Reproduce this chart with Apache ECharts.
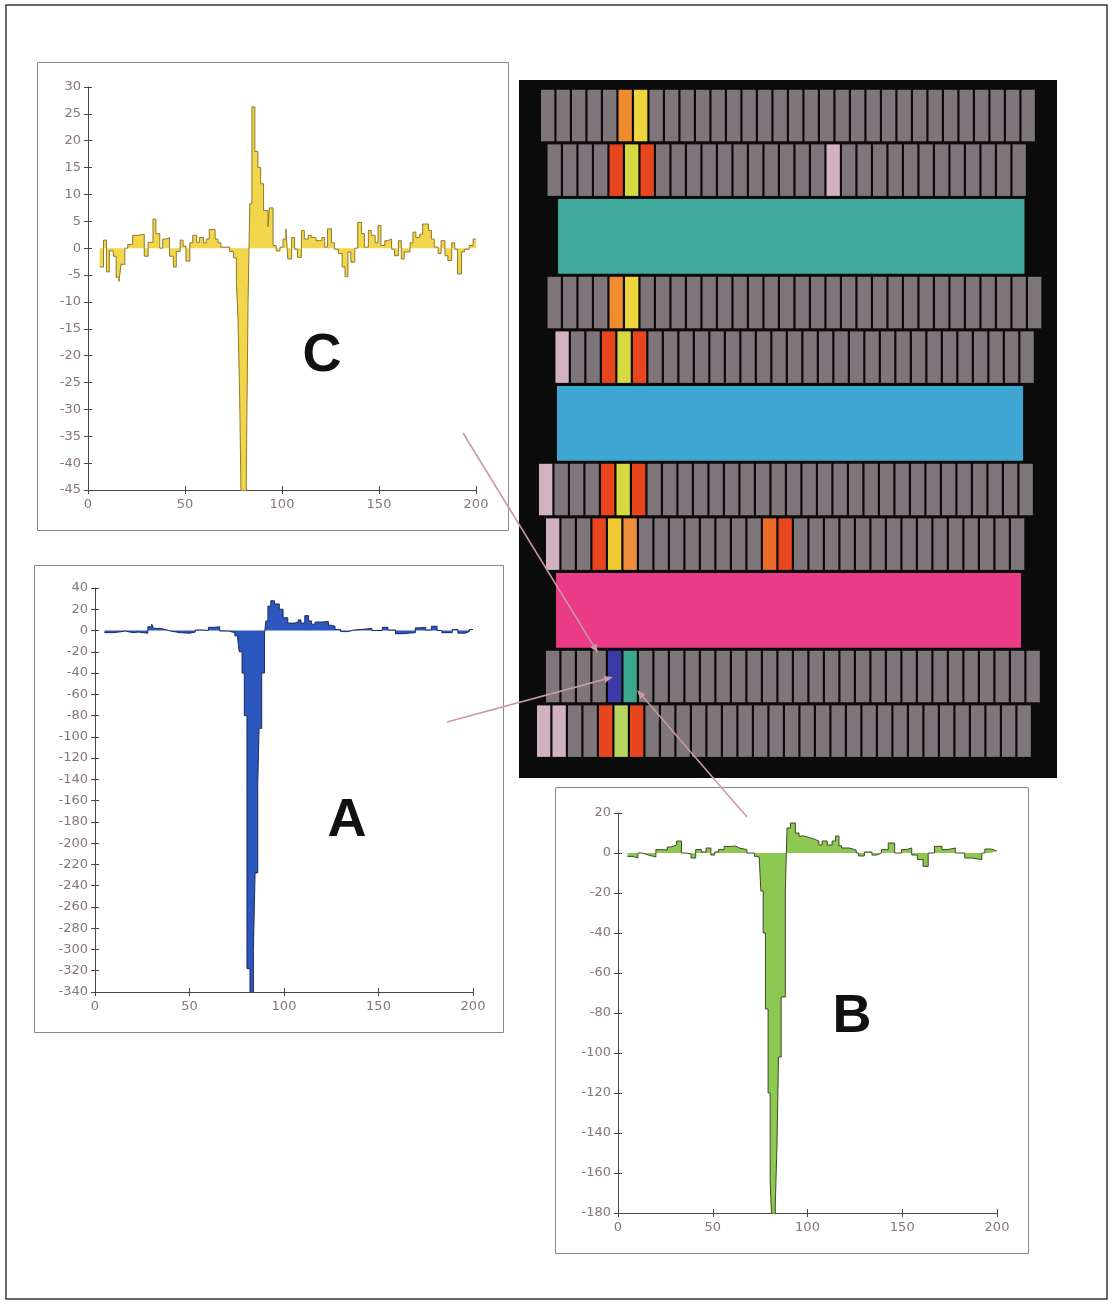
<!DOCTYPE html>
<html>
<head>
<meta charset="utf-8">
<script src="https://cdn.jsdelivr.net/npm/echarts@6/dist/echarts.min.js"></script>
<style>
html,body{margin:0;padding:0;background:#ffffff;}
#main{width:1113px;height:1305px;}
</style>
</head>
<body>
<div id="main"></div>
<script>
// ---- Profile C (yellow): step edges along the position axis and the value of each step ----
const cX = [6, 8, 9.5, 11, 13, 14.5, 16, 17, 19, 20.5, 23, 26, 29, 31, 33.5, 35, 37, 38.5, 40.5, 42,
  44, 45.5, 47.5, 49, 50.5, 52.5, 54, 56, 57.5, 59.5, 61, 62.5, 65.5, 67, 68.5, 73, 75, 76.5, 77.3, 78.2,
  79.1, 81.6, 82.5, 83.4, 84.5, 86, 87.6, 89, 90.5, 92.8, 93.5, 95.4, 97, 99, 100.5, 102, 103, 105, 106.5, 108,
  110, 111.5, 113.5, 115, 117.5, 120.5, 122, 123.5, 125.5, 127, 129, 131, 132.5, 134, 135.5, 137.5, 139, 141, 142.5, 144.5,
  146, 148, 149.5, 151, 153, 154.5, 156.5, 158, 160, 161.5, 163, 166, 167.5, 169, 171, 172.5, 175.5, 177, 178.5, 180.5,
  182, 184, 185.5, 187.5, 189, 190.5, 192.5, 194, 196.5, 198.5];
const cY = [-3.5, 1.5, -4.4, -0.5, -1.5, -5.4, -6.2, -3, 0, 0.7, 2.4, 2.6, -1.5, 1.1, 5.4, 2.7, 0, 1.7, 2, -1.5,
  -3.5, -0.6, 1.5, 0.4, -2.4, 1, 2.4, 1.1, 2, 1, 1.7, 3.5, 1.7, 1, 0.2, -0.6, -1.8, -6.6, -13, -28,
  -52, -42, -10, 8.3, 26.3, 18, 15, 12, 7, 4, 7.5, 0.5, -0.5, 0.2, 1.7, 3.6, -2, 2, -0.2, -1.7,
  3.3, 1.7, 2.4, 2, 1.4, 2, 0.2, 3.6, 1, -0.2, -1, -3.5, -5.3, -0.7, -2.6, 0, 4.8, 2.7, 0.2, 3.3,
  2.4, 1, 4.2, 0.5, 1.4, 1.7, -0.2, -1.4, 1.4, -2, -0.7, 1, 3, 2, 2.6, 4.5, 3.3, 1.7, 0.2, -1,
  1.4, -1.4, -2.3, 1, -0.2, -4.8, -0.7, -0.2, 0.5, 1.7];

// ---- Profile A (blue) ----
const aX = [5, 9, 12.5, 16, 20, 23, 28, 30, 31, 35, 37, 40, 45, 50, 53, 57, 60, 63, 66, 70.5,
  74, 75.5, 76.3, 77.8, 79, 80.4, 82, 83.8, 84.7, 86.1, 86.8, 88.2, 89.7, 90.4, 91.5, 93, 95, 97.5, 99.5,
  102, 105.5, 107.5, 109, 111, 113, 114.5, 116.5, 120, 123.5, 125, 127, 130, 134, 137, 141, 146.5, 152, 155, 159,
  163, 166, 169.5, 172, 175, 178, 181, 183.5, 189, 192, 196, 198];
const aY = [-2, -1.5, -0.5, -2, -1.5, -2.5, 3.5, 6, 2, 1, -0.5, -2, -2.5, -1.5, 0.5, 0, 3, 3.5, -0.5, -2,
  -5, -8, -20, -40, -80, -318, -350, -300, -228, -145, -92, -40, -3, 9, 23, 28, 25, 20, 12,
  7, 8, 10, 7, 14, 9, 6, 8, 8.5, 5, 4, 1, -1, 0.5, 1, 2, 0, 3, 0.5, -3,
  -2.5, -2, 2.5, 3, 0.5, 4, 0, -2, 1, -2.5, -1, 1];

// ---- Profile B (green) ----
const bX = [5, 8, 10.5, 13, 16, 20, 23, 26, 28, 31, 33.5, 36, 38.5, 41, 44, 46.5, 49, 51, 53, 56,
  60, 62, 64, 68, 72, 73.2, 74.5, 75.4, 76.6, 77.8, 79.2, 80.3, 81.2, 83, 83.9, 84.7, 86.1, 88.3,
  89.2, 91, 93.6, 95.5, 98, 100.7, 103.4, 106, 107.7, 110.4, 113, 114.8, 116.6, 118, 122, 125.7, 127, 130, 134, 136.5,
  139, 142.6, 146, 149.6, 152, 155, 158, 161, 163.7, 167, 171, 174, 178, 183, 186.6, 192, 193.6, 197];
const bY = [-1.7, -2.5, 0, -1, -2, 1.7, 1.5, 3, 4, 6, 0, -0.5, -2.5, 1.7, 0.5, 2.5, -1, 0.5, 1.7, 3.3,
  3.5, 2.5, 1.7, 0, -1.7, -2, -3, -19, -40, -78, -120, -164, -185, -176, -146, -102, -72, -19,
  12.5, 15, 10, 8.5, 7.8, 7, 6, 4, 6, 4, 6, 8.5, 3.6, 2.5, 1.5, 0, -1.5, 0.5, -1, 0,
  1.7, 5, 0, 1.7, 2.5, -1, -3.3, -6.7, 0, 3.3, 1.7, 2.5, 0, -2.5, -3.3, 0, 2, 1];

const posTicks = [0, 50, 100, 150, 200];

// ---- Track map: 11 rows, either a row of cells or a full colour band ----
const rowKind  = ['cells', 'cells', 'band', 'cells', 'cells', 'band', 'cells', 'cells', 'band', 'cells', 'cells'];
const rowShift = [1.42, 1.84, 2.52, 1.84, 2.35, 2.45, 1.29, 1.74, 2.39, 1.74, 1.16];   // in cell widths
const rowCells = [32, 31, 30.09, 32, 31, 30.07, 32, 31, 30.0, 32, 32];                 // cells, or band length
const rowMarks = [
  [[5, 'orange'], [6, 'yellow']],
  [[4, 'red'], [5, 'lime'], [6, 'red'], [18, 'pink']],
  'teal',
  [[4, 'orange'], [5, 'yellow']],
  [[0, 'pink'], [3, 'red'], [4, 'lime'], [5, 'red']],
  'sky',
  [[0, 'pink'], [4, 'red'], [5, 'lime'], [6, 'red']],
  [[0, 'pink'], [3, 'red'], [4, 'gold'], [5, 'amber'], [14, 'tangerine'], [15, 'red']],
  'magenta',
  [[4, 'indigo'], [5, 'sea']],
  [[0, 'pink'], [1, 'pink'], [4, 'red'], [5, 'pale'], [6, 'red']]
];
const palette = {
  gray: '#7e767a', orange: '#ef8c30', yellow: '#eed53f', red: '#e8461f', lime: '#d4da40',
  pink: '#d2b2c0', teal: '#41a99d', sky: '#3fa5d3', magenta: '#ea3b86', gold: '#efca35',
  amber: '#ee903b', tangerine: '#ec6c27', indigo: '#3b3aa6', sea: '#3ca890', pale: '#b8d65f'
};

// layout of the track map, in cell units
const cellW = 0.86, firstTop = 0.19, cellH = 1, bandH = 1.45, rowGap = 0.06;

function stepData(xs, ys) {
  const d = xs.map((x, i) => [x, ys[i]]);
  d.push([200, ys[ys.length - 1]]);
  return d;
}

function trackItems() {
  const items = [];
  let y = firstTop;
  rowKind.forEach((kind, r) => {
    const h = kind === 'band' ? bandH : cellH;
    if (kind === 'band') {
      items.push({ value: [rowShift[r], rowShift[r] + rowCells[r], y, y + h],
        itemStyle: { color: palette[rowMarks[r]] } });
    } else {
      const marks = {};
      rowMarks[r].forEach(m => { marks[m[0]] = m[1]; });
      for (let i = 0; i < rowCells[r]; i++) {
        const x0 = rowShift[r] + i;
        items.push({ value: [x0, x0 + cellW, y, y + h],
          itemStyle: { color: palette[marks[i] || 'gray'] } });
      }
    }
    y += h + rowGap;
  });
  return items;
}

const labelStyle = { color: '#857874', fontFamily: 'DejaVu Sans', fontSize: 13 };
const axisCol = '#4d4545';

function xAxes(grid) {
  const base = { type: 'value', gridIndex: grid, min: posTicks[0], max: posTicks[posTicks.length - 1],
    interval: posTicks[1] - posTicks[0], position: 'bottom', splitLine: { show: false } };
  return [
    Object.assign({}, base, {
      axisLine: { show: true, onZero: false, lineStyle: { color: axisCol, width: 1 } },
      axisTick: { show: true, inside: false, length: 4, lineStyle: { color: axisCol } },
      axisLabel: Object.assign({ margin: 8 }, labelStyle)
    }),
    Object.assign({}, base, {
      axisLine: { show: false, onZero: false },
      axisTick: { show: true, inside: true, length: 4, lineStyle: { color: axisCol } },
      axisLabel: { show: false }
    })
  ];
}
function yAxes(grid, min, max, interval) {
  const base = { type: 'value', gridIndex: grid, min: min, max: max, interval: interval, position: 'left',
    splitLine: { show: false } };
  return [
    Object.assign({}, base, {
      axisLine: { show: true, onZero: false, lineStyle: { color: axisCol, width: 1 } },
      axisTick: { show: true, inside: false, length: 4, lineStyle: { color: axisCol } },
      axisLabel: Object.assign({ margin: 7 }, labelStyle)
    }),
    Object.assign({}, base, {
      axisLine: { show: false, onZero: false },
      axisTick: { show: true, inside: true, length: 4, lineStyle: { color: axisCol } },
      axisLabel: { show: false }
    })
  ];
}

function profile(xIdx, data, fill, edge) {
  return {
    type: 'line', xAxisIndex: xIdx, yAxisIndex: xIdx, data: data, step: 'end',
    showSymbol: false, symbol: 'none', animation: false, clip: true,
    lineStyle: { color: edge, width: 1 },
    areaStyle: { color: fill, opacity: 1, origin: 'auto' }
  };
}

function arrow(x1, y1, x2, y2) {
  const col = '#c99aa2';
  const ang = Math.atan2(y2 - y1, x2 - x1);
  const L = 9, W = 3.5;
  const bx = x2 - L * Math.cos(ang), by = y2 - L * Math.sin(ang);
  const px = -Math.sin(ang) * W, py = Math.cos(ang) * W;
  return [
    { type: 'line', z: 100, shape: { x1: x1, y1: y1, x2: bx, y2: by }, style: { stroke: col, lineWidth: 1.6 } },
    { type: 'polygon', z: 100, shape: { points: [[x2, y2], [bx + px, by + py], [bx - px, by - py]] },
      style: { fill: col } }
  ];
}

const panelText = (t, x, y) => ({
  type: 'text', z: 100, x: x, y: y,
  style: { text: t, fill: '#111', font: 'bold 54px "Liberation Sans", Arial, sans-serif',
    textAlign: 'center', textVerticalAlign: 'middle' }
});

const chart = echarts.init(document.getElementById('main'), null, { renderer: 'canvas' });
chart.setOption({
  animation: false,
  backgroundColor: '#ffffff',
  grid: [
    { left: 88, top: 87, width: 388, height: 403 },
    { left: 95, top: 588, width: 378, height: 404 },
    { left: 618, top: 813, width: 379, height: 400 },
    { left: 519, top: 80, width: 538, height: 698, show: true, backgroundColor: '#0b0b0b', borderWidth: 0 }
  ],
  xAxis: [].concat(xAxes(0), xAxes(1), xAxes(2), [
    { type: 'value', gridIndex: 3, min: 0, max: 34.71, show: false }
  ]),
  yAxis: [].concat(yAxes(0, -45, 30, 5), yAxes(1, -340, 40, 20), yAxes(2, -180, 20, 20), [
    { type: 'value', gridIndex: 3, min: 0, max: 13.55, inverse: true, show: false }
  ]),
  series: [
    profile(0, stepData(cX, cY), '#f1d54a', '#8f7a2a'),
    profile(2, stepData(aX, aY), '#2b57bf', '#1d2a5c'),
    profile(4, stepData(bX, bY), '#8dc852', '#3f4a24'),
    {
      type: 'custom', xAxisIndex: 6, yAxisIndex: 6, clip: false,
      encode: { x: [0, 1], y: [2, 3] },
      data: trackItems(),
      renderItem: function (params, api) {
        const p0 = api.coord([api.value(0), api.value(2)]);
        const p1 = api.coord([api.value(1), api.value(3)]);
        return { type: 'rect', shape: { x: p0[0], y: p0[1], width: p1[0] - p0[0], height: p1[1] - p0[1] },
          style: { fill: api.visual('color') } };
      }
    }
  ],
  graphic: [].concat([
    { type: 'rect', z: -10, shape: { x: 6, y: 5, width: 1101, height: 1294 },
      style: { fill: 'none', stroke: '#3a3a3a', lineWidth: 1.5 } },
    { type: 'rect', z: -10, shape: { x: 37.5, y: 62.5, width: 471, height: 468 },
      style: { fill: 'none', stroke: '#8a8a8a', lineWidth: 1 } },
    { type: 'rect', z: -10, shape: { x: 34.5, y: 565.5, width: 469, height: 467 },
      style: { fill: 'none', stroke: '#8a8a8a', lineWidth: 1 } },
    { type: 'rect', z: -10, shape: { x: 555.5, y: 787.5, width: 473, height: 466 },
      style: { fill: 'none', stroke: '#8a8a8a', lineWidth: 1 } },
    panelText('C', 322, 356),
    panelText('A', 347, 821),
    panelText('B', 852, 1017)
  ], arrow(463, 433, 598, 653), arrow(447, 722, 613, 677), arrow(747, 817, 637, 690))
});
</script>
</body>
</html>
